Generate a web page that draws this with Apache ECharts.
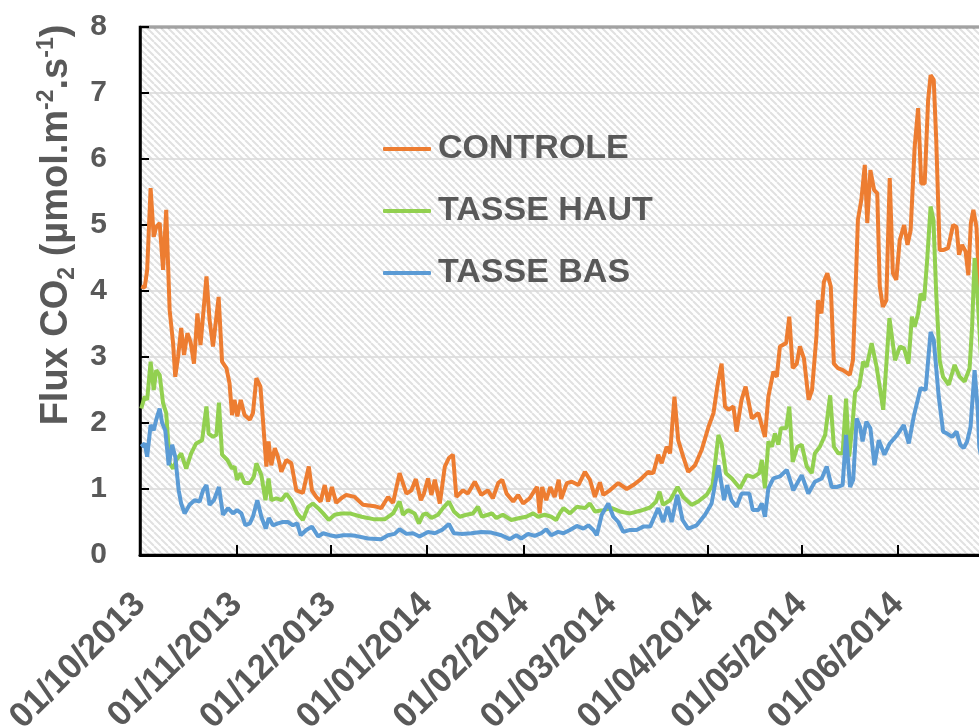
<!DOCTYPE html>
<html>
<head>
<meta charset="utf-8">
<script src="https://cdn.jsdelivr.net/npm/echarts@6/dist/echarts.min.js"></script>
<style>
html,body{margin:0;padding:0;background:#fff;}
#main{width:979px;height:727px;}
</style>
</head>
<body>
<div id="main"></div>
<script>
// jours depuis le 01/10/2013
var monthDays=[0,31,61,92,123,151,182,212,243];
var monthLabels=['01/10/2013','01/11/2013','01/12/2013','01/01/2014','01/02/2014','01/03/2014','01/04/2014','01/05/2014','01/06/2014'];

var controleDays=[0.4,1.5,2.3,3.4,4.4,5.2,6.3,7.4,8.4,9.5,10.6,11.3,12.2,13.2,14.1,15.2,16.2,17.3,18.4,19.4,21.3,22.3,23.4,25.2,26.3,27.7,28.7,29.5,30.3,31.2,32.3,33.5,35.2,36.2,37.3,38.6,39.4,40.5,41.2,42.1,43.2,44.2,45.3,46.9,48.5,50.1,52.2,54.1,55.1,56.5,57.9,59.2,60.3,61.5,62.9,64.5,66.1,68.8,71.5,75.2,77.3,79.5,81.1,83.2,85.4,87.0,88.4,90.0,91.0,92.3,93.4,94.5,96.1,97.7,99.0,100.3,101.4,103.5,105.1,107.3,109.4,111.5,113.1,114.8,116.1,117.5,119.6,121.2,122.8,124.9,126.5,127.3,128.1,128.9,130.2,131.5,132.9,134.2,135.0,136.8,138.4,140.5,142.6,144.2,145.8,147.4,148.5,150.6,153.3,156.0,158.1,160.3,162.9,164.5,166.1,167.2,168.8,169.9,171.3,172.5,174.1,175.7,177.9,180.0,182.2,183.8,185.2,186.4,187.5,188.6,190.2,191.2,192.8,194.1,196.1,198.2,200.3,201.4,203.0,204.1,205.1,207.1,208.1,209.2,210.5,211.5,212.8,214.3,215.4,216.8,217.3,218.4,219.2,220.3,221.4,222.4,223.7,225.3,227.5,228.5,229.3,230.1,231.2,232.3,233.1,234.1,235.3,236.3,237.1,238.1,239.2,240.3,241.3,242.4,243.5,244.9,246.0,247.0,248.3,249.4,250.4,251.5,252.6,253.4,254.4,255.2,256.3,257.4,259.0,260.6,261.7,262.5,263.5,264.6,265.5,266.3,267.1,268.1,269.0,270.0];
var controleVals=[4.07,4.05,4.32,5.56,4.82,4.97,5.03,4.32,5.23,3.71,3.21,2.70,3.00,3.44,3.03,3.36,3.23,2.90,3.66,3.18,4.22,3.56,3.16,3.91,2.93,2.83,2.60,2.12,2.35,2.10,2.35,2.12,2.05,2.15,2.68,2.55,2.05,1.34,1.72,1.36,1.62,1.49,1.26,1.44,1.39,0.98,0.94,1.34,0.98,0.88,0.81,1.06,0.81,1.03,0.79,0.86,0.91,0.88,0.76,0.74,0.71,0.88,0.79,1.24,0.93,0.98,1.15,0.83,0.93,1.16,0.91,1.14,0.78,1.34,1.47,1.52,0.88,0.98,0.93,1.11,0.91,0.98,0.86,1.09,1.14,0.93,0.81,0.91,0.78,0.86,0.98,1.03,0.63,1.03,0.83,1.03,0.88,1.14,0.85,1.09,1.11,1.06,1.26,1.14,0.88,1.10,0.91,0.98,1.09,1.00,1.06,1.14,1.26,1.24,1.52,1.39,1.64,1.54,2.40,1.74,1.49,1.26,1.36,1.59,1.94,2.15,2.60,2.90,2.25,2.20,2.25,1.87,2.35,2.55,2.07,2.15,1.79,2.40,2.78,2.70,3.16,3.21,3.61,2.83,2.90,3.16,2.98,2.35,2.50,3.31,3.86,3.66,4.14,4.27,4.07,2.90,2.83,2.80,2.73,2.95,3.96,5.08,5.38,5.91,5.03,5.83,5.53,5.48,4.07,3.76,3.86,5.71,4.27,4.17,4.77,5.00,4.70,4.92,6.19,6.77,5.63,5.63,6.89,7.27,7.20,6.29,4.62,4.62,4.65,5.00,4.97,4.55,4.70,4.60,4.24,5.03,5.23,4.97,4.07,3.60];

var hautDays=[0.4,1.5,2.3,3.4,4.4,5.2,6.3,7.4,8.4,9.5,10.6,11.7,13.2,14.8,16.4,18.0,19.9,21.3,22.0,23.4,24.5,25.3,26.3,28.0,29.5,30.3,31.1,32.2,33.5,35.2,36.5,37.3,38.9,40.2,41.2,42.1,43.7,45.3,46.9,48.5,50.4,52.2,53.9,55.4,57.1,58.7,60.5,62.4,64.5,67.2,71.0,75.2,78.4,81.1,83.2,84.3,85.9,88.0,89.4,90.7,91.8,93.4,95.5,97.1,99.0,100.6,102.5,104.6,106.7,108.3,109.6,111.5,112.8,114.2,116.3,119.0,121.7,123.8,126.0,127.6,129.7,131.8,133.4,134.5,135.7,137.8,140.0,142.6,144.2,145.8,148.5,151.2,153.8,157.1,160.3,163.5,165.4,166.5,167.6,169.9,172.3,174.1,176.8,178.9,181.6,183.5,185.4,186.4,187.8,189.7,192.3,194.5,196.6,198.5,199.3,200.3,201.4,202.5,203.5,204.6,205.4,207.1,208.1,209.2,210.7,212.1,213.7,215.3,216.3,217.9,219.6,221.2,222.4,223.8,225.2,226.3,227.3,228.4,229.2,230.5,231.8,232.9,234.5,236.1,238.2,239.3,240.2,242.0,243.6,244.9,246.3,247.4,248.3,249.4,250.2,251.3,252.3,253.4,254.3,255.2,256.3,257.4,259.2,261.1,262.7,264.3,265.9,266.7,267.5,268.4,269.0,270.0];
var hautVals=[2.22,2.40,2.35,2.93,2.50,2.80,2.73,2.30,2.15,1.39,1.31,1.44,1.54,1.31,1.54,1.69,1.74,2.25,1.84,1.79,1.82,2.31,1.52,1.44,1.31,1.34,1.14,1.24,1.09,1.09,1.19,1.39,1.21,0.83,1.16,0.83,0.86,0.83,0.93,0.83,0.63,0.53,0.73,0.78,0.71,0.63,0.53,0.61,0.63,0.63,0.58,0.54,0.54,0.63,0.81,0.61,0.68,0.63,0.48,0.61,0.63,0.56,0.61,0.71,0.81,0.66,0.58,0.61,0.63,0.73,0.58,0.61,0.63,0.56,0.61,0.53,0.56,0.58,0.63,0.58,0.61,0.58,0.53,0.63,0.71,0.63,0.73,0.71,0.78,0.66,0.68,0.71,0.66,0.63,0.67,0.72,0.81,0.96,0.76,0.83,1.03,0.88,0.76,0.81,0.91,1.06,1.82,1.69,1.24,1.16,1.01,1.21,1.18,1.24,1.44,1.01,1.72,1.64,1.84,1.67,1.92,1.92,2.25,1.41,1.64,1.67,1.34,1.24,1.54,1.64,1.82,2.42,1.64,1.54,1.54,2.37,1.49,2.00,2.47,2.55,2.93,2.85,3.21,2.85,2.20,2.95,3.59,2.95,3.16,3.13,2.90,3.61,3.46,3.66,3.96,3.86,4.47,5.28,5.08,3.96,2.95,2.70,2.58,2.88,2.70,2.63,2.83,3.46,4.50,3.96,3.46,2.60];

var basDays=[0.4,1.5,2.3,3.4,4.4,5.2,6.3,7.1,8.1,9.2,10.3,11.3,12.4,13.2,14.3,15.9,17.5,19.1,20.2,21.3,22.3,23.7,25.3,26.6,28.2,29.8,31.1,32.5,33.8,35.2,36.2,37.6,38.9,40.3,41.3,42.6,44.2,45.8,47.4,49.0,50.4,51.5,53.3,55.1,57.1,58.7,60.8,62.9,65.1,67.2,69.1,73.1,77.3,79.5,81.6,83.2,85.4,87.5,89.6,92.3,94.5,96.8,99.0,100.6,103.0,106.2,109.4,112.6,115.8,118.5,120.6,122.2,124.4,126.5,128.6,130.2,131.8,134.0,135.7,137.8,140.0,142.1,143.7,145.3,146.4,148.0,150.1,151.7,153.3,154.9,157.1,159.2,161.3,163.5,164.7,166.1,167.7,169.1,170.4,172.2,173.9,175.7,178.4,181.1,183.2,185.4,187.2,188.2,189.6,191.2,192.8,195.3,196.4,198.2,199.3,200.3,201.4,203.0,205.1,207.3,209.4,212.1,214.2,216.3,218.5,220.1,221.7,223.3,225.2,226.3,227.6,228.6,229.7,230.8,231.6,232.8,234.1,235.4,236.8,238.6,240.3,242.7,244.8,246.4,248.0,250.2,251.8,253.4,254.4,256.0,257.4,258.7,260.3,261.7,262.9,264.0,265.1,266.2,267.5,268.5,269.0,270.0];
var basVals=[1.64,1.69,1.49,1.97,1.89,2.05,2.22,2.00,1.89,1.36,1.67,1.49,0.98,0.78,0.63,0.76,0.83,0.81,0.98,1.06,0.76,0.83,1.03,0.61,0.71,0.63,0.68,0.63,0.45,0.48,0.58,0.83,0.58,0.40,0.56,0.45,0.48,0.50,0.50,0.45,0.48,0.30,0.38,0.43,0.28,0.33,0.30,0.28,0.30,0.30,0.29,0.25,0.24,0.30,0.32,0.39,0.32,0.33,0.28,0.35,0.33,0.38,0.47,0.33,0.32,0.33,0.35,0.34,0.30,0.24,0.30,0.25,0.32,0.29,0.33,0.39,0.30,0.35,0.33,0.38,0.44,0.40,0.45,0.38,0.30,0.61,0.78,0.58,0.50,0.35,0.38,0.38,0.43,0.43,0.56,0.71,0.50,0.73,0.50,0.91,0.53,0.40,0.45,0.61,0.78,1.36,0.83,1.06,0.83,0.73,0.93,0.93,0.68,0.68,0.78,0.58,1.01,1.16,1.19,1.29,0.98,1.21,0.93,1.11,1.16,1.34,1.03,1.03,1.06,1.82,1.03,1.14,2.07,1.94,1.72,2.02,1.92,1.36,1.74,1.52,1.69,1.82,1.97,1.69,2.10,2.53,2.50,3.38,3.26,2.40,1.87,1.84,1.79,1.87,1.67,1.62,1.72,1.94,2.80,2.20,1.64,1.40];

function pairs(days,vals){
    var out=[];
    for(var i=0;i<days.length;i++){ out.push([days[i],vals[i]]); }
    return out;
}

// motif hachuré du fond
function makeHatch(){
    var p=7;
    var c=document.createElement('canvas');
    c.width=p;c.height=p;
    var g=c.getContext('2d');
    g.fillStyle='#ffffff';
    g.fillRect(0,0,p,p);
    g.strokeStyle='#e1e1e1';
    g.lineWidth=2;
    g.beginPath();
    for(var k=-p;k<=p;k+=p){ g.moveTo(k,0); g.lineTo(k+p,p); }
    g.stroke();
    return c;
}

var gray='#595959';
var font='"Liberation Sans", Arial, sans-serif';

var app=echarts.init(document.getElementById('main'));
var option={
    animation:false,
    backgroundColor:'#ffffff',
    grid:{
        left:140,top:27,right:-19,bottom:172,
        outerBoundsMode:'none',
        containLabel:false,
        show:true,
        borderColor:'#000',
        borderWidth:2.5,
        backgroundColor:{image:makeHatch(),repeat:'repeat'}
    },
    legend:{
        orient:'vertical',
        left:383,top:132,
        padding:0,
        itemWidth:48,itemHeight:4,
        itemGap:28,
        icon:'roundRect',
        data:['CONTROLE','TASSE HAUT','TASSE BAS'],
        textStyle:{fontSize:34,fontWeight:'bold',color:gray,fontFamily:font,padding:[0,0,0,2]}
    },
    xAxis:{
        type:'value',
        min:0,max:275,
        axisLine:{show:true,lineStyle:{color:'#000',width:3}},
        axisTick:{show:true,inside:true,length:10,lineStyle:{color:'#000',width:2},customValues:monthDays},
        axisLabel:{
            customValues:monthDays,
            rotate:45,
            margin:44,
            fontSize:35,fontWeight:'bold',color:gray,fontFamily:font,
            formatter:function(v){ return monthLabels[monthDays.indexOf(v)]; }
        },
        splitLine:{show:false}
    },
    yAxis:{
        type:'value',
        min:0,max:8,interval:1,
        axisLine:{show:true,lineStyle:{color:'#000',width:2.5}},
        axisTick:{show:true,inside:true,length:9,lineStyle:{color:'#000',width:2}},
        axisLabel:{fontSize:30,fontWeight:'bold',color:gray,fontFamily:font,margin:33},
        splitLine:{show:true,lineStyle:{color:'#d9d9d9',width:1.5}}
    },
    graphic:[{
        type:'text',
        x:57,y:225,
        rotation:Math.PI/2,
        style:{
            text:'{a|Flux CO}{b|2}{a| (µmol.m}{c|-2}{a|.s}{c|-1}{a|)}',
            align:'center',verticalAlign:'middle',
            rich:{
                a:{fontSize:38,fontWeight:'bold',fill:gray,fontFamily:font,lineHeight:44,verticalAlign:'middle'},
                b:{fontSize:23,fontWeight:'bold',fill:gray,fontFamily:font,lineHeight:44,verticalAlign:'bottom'},
                c:{fontSize:23,fontWeight:'bold',fill:gray,fontFamily:font,lineHeight:44,verticalAlign:'top'}
            }
        }
    }],
    series:[
        {name:'CONTROLE',type:'line',data:pairs(controleDays,controleVals),showSymbol:false,symbol:'none',
         itemStyle:{color:'#ED7D31'},lineStyle:{color:'#ED7D31',width:4},emphasis:{disabled:true}},
        {name:'TASSE HAUT',type:'line',data:pairs(hautDays,hautVals),showSymbol:false,symbol:'none',
         itemStyle:{color:'#92D050'},lineStyle:{color:'#92D050',width:4},emphasis:{disabled:true}},
        {name:'TASSE BAS',type:'line',data:pairs(basDays,basVals),showSymbol:false,symbol:'none',
         itemStyle:{color:'#5B9BD5'},lineStyle:{color:'#5B9BD5',width:4},emphasis:{disabled:true}}
    ]
};
app.setOption(option);
</script>
</body>
</html>
